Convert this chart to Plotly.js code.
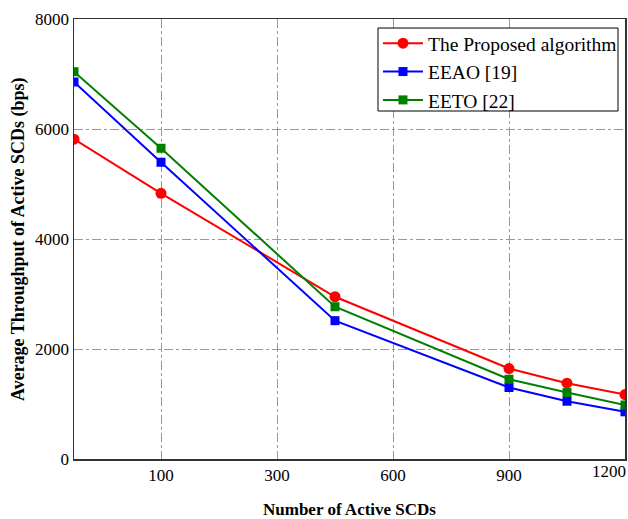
<!DOCTYPE html>
<html>
<head>
<meta charset="utf-8">
<script src="https://cdn.plot.ly/plotly-3.0.1.min.js"></script>
<style>html,body{margin:0;padding:0;background:#fff;}#chart{width:628px;height:519px;}</style>
</head>
<body>
<div id="chart"></div>
<script>
// x positions on the plotted axis (evenly spaced tick slots, labelled below)
const xPositions = [-225, 0, 450, 900, 1050, 1200];
const xTickVals = [0, 300, 600, 900, 1200];
const xTickText = ['100', '300', '600', '900', '1200'];
const yTickVals = [0, 2000, 4000, 6000, 8000];

const proposed = [5815, 4830, 2950, 1645, 1378, 1172];
const eeao     = [6855, 5395, 2515, 1300, 1050, 858];
const eeto     = [7042, 5650, 2768, 1450, 1208, 982];

const seriesNames = ['The Proposed algorithm', 'EEAO [19]', 'EETO [22]'];

const serif = "'Liberation Serif', serif";
const xRange = [-225, 1200];

// the last series is drawn on an overlaid copy of the x axis, which also carries
// the last tick label pulled left so it stays inside the picture
const traces = [
  {x: xPositions, y: proposed, name: seriesNames[0], mode: 'lines+markers',
   line: {color: '#ff0000', width: 2}, marker: {symbol: 'circle', size: 11, color: '#ff0000'}},
  {x: xPositions, y: eeao, name: seriesNames[1], mode: 'lines+markers',
   line: {color: '#0000ff', width: 2}, marker: {symbol: 'square', size: 9, color: '#0000ff'}},
  {x: xPositions, y: eeto, name: seriesNames[2], mode: 'lines+markers', xaxis: 'x2', yaxis: 'y',
   line: {color: '#008000', width: 2}, marker: {symbol: 'square', size: 9, color: '#008000'}}
];

const lastIdx = xTickText.length - 1;
const mainTickText = xTickText.map((t, i) => i === lastIdx ? '' : t);

const tickFont = {family: serif, size: 17, color: '#000'};

const layout = {
  width: 628, height: 519,
  margin: {l: 74, r: 3, t: 19, b: 60},
  paper_bgcolor: '#ffffff', plot_bgcolor: '#ffffff',
  font: {family: serif, color: '#000', size: 17},
  showlegend: true,
  legend: {
    x: 0.5517, y: 0.9886, xanchor: 'left', yanchor: 'top',
    bgcolor: 'rgba(0,0,0,0)', borderwidth: 0,
    font: {family: serif, size: 19.5, color: '#000'},
    itemwidth: 40, tracegroupgap: 0
  },
  shapes: [{
    type: 'rect', xref: 'paper', yref: 'paper', layer: 'above',
    x0: 0.5517, x1: 0.9873, y0: 0.7909, y1: 0.9795,
    fillcolor: '#ffffff', line: {color: '#000', width: 1}
  }],
  annotations: [{
    text: '<b>Average Throughput of Active SCDs (bps)</b>',
    xref: 'paper', yref: 'paper', x: -0.1016, y: 0.5,
    xanchor: 'center', yanchor: 'middle', textangle: -90, showarrow: false,
    font: {family: serif, size: 18, color: '#000'}
  }],
  xaxis: {
    range: xRange, autorange: false,
    tickmode: 'array', tickvals: xTickVals, ticktext: mainTickText,
    showgrid: true, gridcolor: '#999999', griddash: 'dashdot', gridwidth: 1,
    zeroline: false,
    showline: true, linecolor: '#333333', linewidth: 1.5, mirror: true,
    ticks: '', tickfont: tickFont,
    title: {text: '<b>Number of Active SCDs</b>', font: {family: serif, size: 17, color: '#000'}, standoff: 24},
    automargin: false
  },
  xaxis2: {
    range: xRange, autorange: false, overlaying: 'x', anchor: 'y', side: 'bottom',
    tickmode: 'array', tickvals: [xTickVals[lastIdx]], ticktext: [xTickText[lastIdx]],
    ticklabelshift: -16, ticklabeloverflow: 'allow',
    showgrid: false, zeroline: false, showline: false, ticks: '',
    tickfont: tickFont, automargin: false
  },
  yaxis: {
    range: [0, 8000], autorange: false,
    tickmode: 'array', tickvals: yTickVals,
    showgrid: true, gridcolor: '#999999', griddash: 'dashdot', gridwidth: 1,
    zeroline: false,
    showline: true, linecolor: '#333333', linewidth: 1.5, mirror: true,
    ticks: '', tickfont: tickFont,
    automargin: false
  }
};

Plotly.newPlot('chart', traces, layout, {displayModeBar: false, staticPlot: true});
</script>
</body>
</html>
